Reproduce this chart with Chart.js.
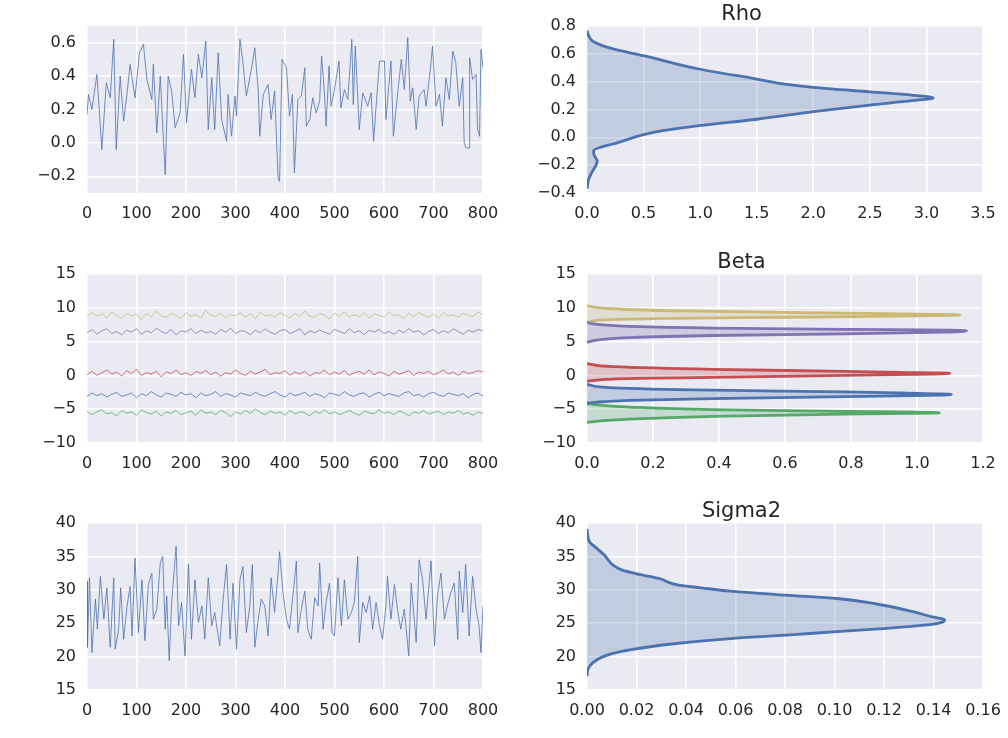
<!DOCTYPE html>
<html>
<head>
<meta charset="utf-8">
<script src="https://cdn.jsdelivr.net/npm/chart.js@4.4.1/dist/chart.umd.min.js"></script>
<style>
  html, body { margin: 0; padding: 0; background: #fff; }
  body { width: 1008px; height: 738px; position: relative; overflow: hidden; }
  .box { position: absolute; }
</style>
</head>
<body>
<div class="box" style="left:0;top:0;width:503px;height:228px"><canvas id="rhoTrace"></canvas></div>
<div class="box" style="left:500px;top:0;width:508px;height:228px"><canvas id="rhoKde"></canvas></div>
<div class="box" style="left:0;top:248px;width:503px;height:230px"><canvas id="betaTrace"></canvas></div>
<div class="box" style="left:500px;top:248px;width:508px;height:230px"><canvas id="betaKde"></canvas></div>
<div class="box" style="left:0;top:497px;width:503px;height:228px"><canvas id="sigTrace"></canvas></div>
<div class="box" style="left:500px;top:497px;width:508px;height:228px"><canvas id="sigKde"></canvas></div>
<script>
// ---- data ----
let iterTicks = [0, 100, 200, 300, 400, 500, 600, 700, 800];

// rho trace
let rhoIter = [0,3,10,20,30,39,47,54,59,67,74,81,87,97,106,114,121,131,134,141,148,158,164,171,178,188,195,201,211,218,225,232,240,245,252,258,265,272,282,285,292,299,302,309,315,322,332,339,346,349,356,366,372,379,386,389,394,403,409,415,419,426,433,440,443,450,456,463,470,474,480,483,489,493,500,509,513,520,527,535,538,542,550,557,567,574,579,584,591,601,604,614,619,628,635,641,648,653,658,665,671,681,685,695,698,705,712,718,725,732,739,745,752,759,762,765,772,773,779,786,789,793,796,800];
let rhoVals = [0.17,0.29,0.2,0.41,-0.04,0.36,0.27,0.62,-0.04,0.4,0.13,0.3,0.47,0.27,0.54,0.59,0.38,0.26,0.47,0.06,0.4,-0.19,0.4,0.31,0.09,0.18,0.53,0.12,0.44,0.27,0.53,0.39,0.61,0.08,0.39,0.08,0.54,0.14,0.01,0.29,0.04,0.28,0.16,0.62,0.48,0.28,0.44,0.57,0.31,0.04,0.29,0.35,0.14,0.31,-0.21,-0.23,0.5,0.45,0.16,0.29,-0.18,0.26,0.28,0.45,0.1,0.14,0.27,0.18,0.25,0.52,0.28,0.1,0.46,0.22,0.32,0.49,0.21,0.32,0.26,0.62,0.23,0.58,0.08,0.3,0.22,0.3,0.01,0.22,0.49,0.49,0.14,0.49,0.04,0.31,0.5,0.32,0.63,0.25,0.33,0.08,0.28,0.32,0.22,0.48,0.58,0.22,0.29,0.1,0.39,0.26,0.55,0.48,0.22,0.39,0.0,-0.03,-0.03,0.51,0.38,0.41,0.08,0.04,0.56,0.45];
let rhoTicks = [-0.2, 0.0, 0.2, 0.4, 0.6];

// rho density (value, density)
let rhoKdeVals = [-0.37,-0.30,-0.25,-0.20,-0.17,-0.13,-0.096,-0.072,-0.048,0.019,0.048,0.084,0.13,0.184,0.232,0.263,0.283,0.304,0.327,0.359,0.383,0.419,0.491,0.587,0.635,0.687,0.73,0.766];
let rhoKdeDens = [0.0,0.015,0.044,0.08,0.09,0.064,0.058,0.117,0.23,0.5,0.67,0.99,1.5,2.0,2.5,2.87,3.06,2.87,2.5,2.0,1.75,1.5,0.99,0.5,0.23,0.058,0.015,0.0];
let rhoKdeYTicks = [-0.4, -0.2, 0.0, 0.2, 0.4, 0.6, 0.8];
let rhoKdeXTicks = [0, 0.5, 1, 1.5, 2, 2.5, 3, 3.5];

// beta traces
let betaTicks = [-10, -5, 0, 5, 10, 15];
let betaYellow = [8.6,9.3,8.8,9.1,8.5,9.4,8.9,8.4,9.2,8.8,9.0,8.3,9.1,8.7,9.5,8.8,8.6,9.2,8.9,8.4,9.3,8.7,9.0,8.5,9.6,8.9,8.7,9.2,8.5,9.0,8.8,9.3,8.6,9.1,8.4,9.4,8.8,9.0,8.6,9.3,8.9,8.5,9.2,8.7,9.5,8.8,8.6,9.1,8.9,8.3,9.2,8.8,9.4,8.6,9.0,8.7,9.3,8.5,9.1,8.9,8.6,9.4,8.8,9.0,8.4,9.2,8.7,9.3,8.9,8.6,9.1,8.5,9.3,8.8,9.0,8.6,9.2,8.9,8.7,9.4,9.0];
let betaPurple = [6.3,6.8,6.1,6.6,6.9,6.2,6.5,6.0,6.7,6.4,6.9,6.1,6.6,6.3,7.0,6.5,6.2,6.8,6.0,6.6,6.4,6.9,6.2,6.7,6.3,6.5,6.1,6.8,6.4,7.0,6.2,6.6,6.5,6.0,6.7,6.3,6.9,6.4,6.1,6.6,6.8,6.2,6.5,6.9,6.0,6.6,6.3,6.7,6.4,6.1,6.8,6.5,6.2,6.9,6.3,6.6,6.0,6.7,6.4,6.8,6.2,6.5,6.1,6.7,6.3,6.9,6.4,6.6,6.0,6.5,6.8,6.2,6.6,6.3,6.9,6.5,6.1,6.7,6.4,6.8,6.6];
let betaRed = [0.1,0.6,0.0,0.4,0.8,0.2,0.5,-0.1,0.7,0.3,0.9,0.0,0.4,0.2,0.6,-0.2,0.5,0.3,0.8,0.1,0.4,0.0,0.6,0.3,0.7,0.1,0.5,-0.1,0.4,0.2,0.8,0.3,0.0,0.6,0.2,0.5,0.9,0.1,0.4,0.3,0.7,0.0,0.5,0.2,0.6,-0.1,0.4,0.3,0.8,0.1,0.5,0.2,0.7,0.0,0.4,0.6,0.2,0.8,0.1,0.5,0.3,-0.1,0.6,0.2,0.4,0.7,0.0,0.5,0.3,0.6,0.1,0.4,0.8,0.2,0.5,0.0,0.6,0.3,0.4,0.7,0.5];
let betaBlue = [-3.1,-2.6,-3.0,-2.7,-3.2,-2.8,-2.5,-3.1,-2.9,-2.6,-3.3,-2.7,-3.0,-2.4,-2.9,-3.2,-2.6,-2.8,-3.1,-2.5,-2.9,-2.7,-3.3,-2.6,-3.0,-2.8,-2.4,-3.1,-2.7,-2.9,-3.2,-2.6,-2.8,-3.0,-2.5,-2.9,-3.1,-2.7,-2.4,-2.9,-3.2,-2.6,-3.0,-2.8,-2.5,-3.1,-2.7,-2.9,-3.3,-2.6,-2.8,-3.0,-2.4,-2.9,-3.1,-2.7,-2.6,-3.2,-2.8,-2.5,-3.0,-2.7,-2.9,-3.1,-2.6,-2.4,-3.0,-2.8,-3.2,-2.7,-2.5,-2.9,-3.1,-2.6,-2.8,-3.0,-2.7,-3.3,-2.8,-2.6,-3.1];
let betaGreen = [-5.3,-5.8,-5.4,-5.1,-5.7,-5.5,-6.0,-5.2,-5.6,-5.4,-5.9,-5.1,-5.5,-5.7,-5.3,-6.0,-5.4,-5.6,-5.2,-5.8,-5.5,-5.3,-5.9,-5.1,-5.6,-5.4,-5.8,-5.2,-5.5,-6.1,-5.4,-5.7,-5.2,-5.6,-5.0,-5.5,-5.8,-5.3,-5.6,-5.4,-5.9,-5.2,-5.7,-5.4,-5.5,-6.0,-5.3,-5.6,-5.1,-5.7,-5.4,-5.8,-5.5,-5.2,-5.6,-5.9,-5.3,-5.5,-5.7,-5.1,-5.6,-5.4,-5.8,-5.3,-5.5,-6.0,-5.4,-5.6,-5.2,-5.7,-5.5,-5.3,-5.8,-5.4,-5.6,-5.2,-5.7,-5.5,-5.9,-5.4,-5.6];

// beta densities (value, density)
let kdeBlueVals = [-4.08,-3.9,-3.68,-3.43,-3.13,-2.9,-2.79,-2.6,-2.44,-2.19,-1.84,-1.34];
let kdeBlueDens = [0.0,0.05,0.13,0.38,0.78,1.08,1.104,0.95,0.78,0.38,0.08,0.0];
let kdeGreenVals = [-6.97,-6.7,-6.47,-6.07,-5.72,-5.58,-5.52,-5.45,-5.32,-5.07,-4.68,-4.4,-4.18];
let kdeGreenDens = [0.0,0.05,0.13,0.38,0.78,1.05,1.068,1.0,0.78,0.38,0.13,0.04,0.0];
let kdeRedVals = [-0.85,-0.6,-0.45,-0.3,0.0,0.2,0.3,0.45,0.6,0.9,1.3,1.75];
let kdeRedDens = [0.0,0.06,0.15,0.38,0.78,1.05,1.1,0.95,0.78,0.38,0.08,0.0];
let kdePurpleVals = [4.9,5.3,5.6,5.9,6.15,6.4,6.57,6.7,6.8,7.0,7.25,7.5,7.8];
let kdePurpleDens = [0.0,0.04,0.13,0.38,0.78,1.08,1.15,1.1,0.78,0.38,0.13,0.04,0.0];
let kdeYellowVals = [7.8,8.2,8.4,8.6,8.8,8.95,9.15,9.35,9.6,9.9,10.3];
let kdeYellowDens = [0.0,0.05,0.2,0.6,1.0,1.13,0.9,0.55,0.22,0.06,0.0];
let betaKdeXTicks = [0, 0.2, 0.4, 0.6, 0.8, 1.0, 1.2];

// sigma2 trace
let sigIter = [0,1,5,10,17,21,27,34,40,47,54,57,64,68,74,81,87,91,97,104,111,117,124,131,134,141,148,153,158,161,166,171,180,185,191,198,205,211,218,225,232,238,245,252,258,268,275,282,289,295,302,309,315,322,329,334,339,346,352,359,366,372,379,386,389,396,403,409,416,423,426,433,440,446,453,460,467,470,477,483,490,495,500,507,514,520,527,534,540,547,550,557,564,571,577,584,591,597,604,607,614,621,628,634,641,650,655,661,665,671,678,685,695,702,708,715,722,728,735,742,749,752,759,765,772,779,786,792,796,800];
let sigVals = [31.3,21.4,31.8,20.6,28.6,24.1,32.0,25.6,30.3,21.4,31.8,21.1,24.1,30.3,22.6,27.6,30.5,23.1,34.75,23.6,31.5,22.4,30.8,32.5,25.6,27.1,34.0,35.0,24.1,29.1,19.4,28.1,36.5,24.6,28.1,20.1,33.8,22.6,31.5,25.1,27.6,22.6,31.8,24.6,26.6,21.6,28.6,33.8,22.6,31.0,21.1,31.5,33.5,23.6,27.6,33.8,21.4,25.6,28.6,27.6,23.1,31.8,26.6,32.5,35.7,29.6,25.6,24.1,29.1,34.3,23.6,27.1,29.8,24.1,22.6,28.8,27.6,34.0,24.1,28.1,31.0,23.6,23.1,31.8,24.6,31.5,25.6,26.6,28.1,35.0,22.1,28.1,26.6,29.1,24.1,28.1,24.6,22.6,27.6,32.0,25.6,30.8,26.6,24.1,27.1,20.1,31.0,25.6,22.1,34.5,31.5,25.6,34.3,21.6,29.1,32.5,25.6,27.6,29.6,31.0,22.6,32.8,26.6,33.8,23.1,32.0,27.1,24.6,20.6,27.6];
let sigTicks = [15, 20, 25, 30, 35, 40];

// sigma2 density (value, density)
let sigKdeVals = [17.1,18.1,19.1,20.0,20.7,21.4,22.0,22.7,23.2,23.75,24.15,24.85,25.55,25.9,26.7,27.8,28.7,29.2,29.8,30.3,30.7,31.7,32.4,32.9,33.7,35.2,36.2,37.2,39.1];
let sigKdeDens = [0,0.0004,0.0024,0.0065,0.013,0.024,0.037,0.058,0.0805,0.101,0.118,0.14,0.1445,0.14,0.132,0.118,0.101,0.08,0.058,0.046,0.037,0.029,0.02,0.0145,0.0105,0.007,0.004,0.001,0];
let sigKdeXTicks = [0, 0.02, 0.04, 0.06, 0.08, 0.10, 0.12, 0.14, 0.16];

// ---- colours ----
let blue = '#4C72B0', green = '#55A868', red = '#C44E52', purple = '#8172B2', yellow = '#CCB974';

function fade(hex, a) {
  let n = parseInt(hex.slice(1), 16);
  return 'rgba(' + (n >> 16) + ',' + ((n >> 8) & 255) + ',' + (n & 255) + ',' + a + ')';
}

// ---- helpers ----
Chart.defaults.font.family = 'DejaVu Sans';
Chart.defaults.color = '#262626';

// grey plot background like seaborn darkgrid
Chart.register({
  id: 'plotBg',
  beforeDraw(chart) {
    let a = chart.chartArea;
    let ctx = chart.ctx;
    ctx.save();
    ctx.fillStyle = '#EAEAF2';
    ctx.fillRect(a.left, a.top, a.right - a.left, a.bottom - a.top);
    ctx.restore();
  }
});

function fmt(dec) {
  return function(v) { return Number(v).toFixed(dec).replace('-', '\u2212'); };
}

function axis(min, max, ticks, dec, size) {
  return {
    type: 'linear',
    min: min,
    max: max,
    border: { display: false },
    grid: { color: '#ffffff', lineWidth: 1.6, drawTicks: false },
    afterBuildTicks: function(s) { s.ticks = ticks.map(function(v) { return { value: v }; }); },
    afterFit: function(s) {
      // pin the plot box: no extra room for overflowing end labels
      if (s.isHorizontal()) { s.height = size; s.paddingLeft = 0; s.paddingRight = 0; }
      else { s.width = size; s.paddingTop = 0; s.paddingBottom = 0; }
    },
    ticks: { padding: 11, autoSkip: false, maxRotation: 0, font: { size: 16 }, color: '#262626', callback: fmt(dec) }
  };
}

function pairs(xs, ys) {
  let out = [];
  for (let i = 0; i < xs.length; i++) out.push({ x: xs[i], y: ys[i] });
  return out;
}

// trace with evenly spread iterations 0..800
function spread(vals) {
  let out = [];
  for (let i = 0; i < vals.length; i++) out.push({ x: i * 800 / (vals.length - 1), y: vals[i] });
  return out;
}

function traceLine(data, color) {
  return { data: data, borderColor: fade(color, 0.8), borderWidth: 1, pointRadius: 0, fill: false };
}

function kdeLine(vals, dens, color) {
  return {
    data: pairs(dens, vals),
    borderColor: color,
    borderWidth: 2.8,
    backgroundColor: fade(color, 0.25),
    fill: 'origin',
    pointRadius: 0,
    cubicInterpolationMode: 'monotone'
  };
}

function baseOpts(title, right) {
  return {
    responsive: true,
    maintainAspectRatio: false,
    animation: false,
    layout: { padding: { top: title ? 0 : 26, right: right, left: 0, bottom: 0 } },
    plugins: {
      legend: { display: false },
      tooltip: { enabled: false },
      title: {
        display: !!title,
        text: title || '',
        color: '#262626',
        font: { size: 21, weight: 'normal', lineHeight: '23px' },
        padding: { top: 3, bottom: 0 }
      }
    }
  };
}

function traceChart(id, datasets, yMin, yMax, yTicks, yDec) {
  let opts = baseOpts(null, 20);
  opts.scales = {
    x: axis(0, 800, iterTicks, 0, 35),
    y: axis(yMin, yMax, yTicks, yDec, 87)
  };
  new Chart(document.getElementById(id), { type: 'line', data: { datasets: datasets }, options: opts });
}

function kdeChart(id, title, datasets, xMax, xTicks, xDec, yMin, yMax, yTicks, yDec) {
  let opts = baseOpts(title, 25);
  opts.indexAxis = 'y';
  opts.scales = {
    x: axis(0, xMax, xTicks, xDec, 35),
    y: axis(yMin, yMax, yTicks, yDec, 87)
  };
  new Chart(document.getElementById(id), { type: 'line', data: { datasets: datasets }, options: opts });
}

// ---- charts ----
traceChart('rhoTrace', [traceLine(pairs(rhoIter, rhoVals), blue)], -0.3, 0.7, rhoTicks, 1);

kdeChart('rhoKde', 'Rho', [kdeLine(rhoKdeVals, rhoKdeDens, blue)],
  3.5, rhoKdeXTicks, 1, -0.4, 0.8, rhoKdeYTicks, 1);

traceChart('betaTrace', [
  traceLine(spread(betaBlue), blue),
  traceLine(spread(betaGreen), green),
  traceLine(spread(betaRed), red),
  traceLine(spread(betaPurple), purple),
  traceLine(spread(betaYellow), yellow)
], -10, 15, betaTicks, 0);

kdeChart('betaKde', 'Beta', [
  kdeLine(kdeBlueVals, kdeBlueDens, blue),
  kdeLine(kdeGreenVals, kdeGreenDens, green),
  kdeLine(kdeRedVals, kdeRedDens, red),
  kdeLine(kdePurpleVals, kdePurpleDens, purple),
  kdeLine(kdeYellowVals, kdeYellowDens, yellow)
], 1.2, betaKdeXTicks, 1, -10, 15, betaTicks, 0);

traceChart('sigTrace', [traceLine(pairs(sigIter, sigVals), blue)], 15, 40, sigTicks, 0);

kdeChart('sigKde', 'Sigma2', [kdeLine(sigKdeVals, sigKdeDens, blue)],
  0.16, sigKdeXTicks, 2, 15, 40, sigTicks, 0);
</script>
</body>
</html>
